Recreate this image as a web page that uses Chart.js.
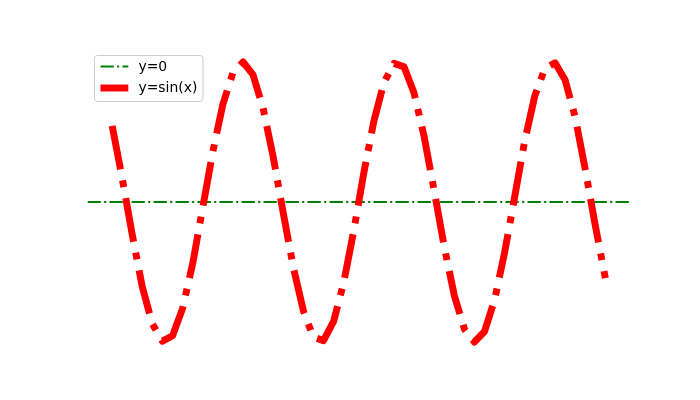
<!DOCTYPE html>
<html>
<head>
<meta charset="utf-8">
<script src="https://cdn.jsdelivr.net/npm/chart.js@4.4.0/dist/chart.umd.min.js"></script>
<style>
    html, body { margin: 0; padding: 0; background: #ffffff; }
    #wrap { width: 700px; height: 400px; }
</style>
</head>
<body>
<div id="wrap"><canvas id="chartSin" width="700" height="400"></canvas></div>
<script>
//---------------------------------------------------------------------
// DONNÉES
//---------------------------------------------------------------------
const xValues = [
    -10.00, -9.59, -9.18, -8.78, -8.37, -7.96, -7.55, -7.14, -6.73, -6.33,
    -5.92, -5.51, -5.10, -4.69, -4.29, -3.88, -3.47, -3.06, -2.65, -2.24,
    -1.84, -1.43, -1.02, -0.61, -0.20, 0.20, 0.61, 1.02, 1.43, 1.84,
    2.24, 2.65, 3.06, 3.47, 3.88, 4.29, 4.69, 5.10, 5.51, 5.92,
    6.33, 6.73, 7.14, 7.55, 7.96, 8.37, 8.78, 9.18, 9.59, 10.00
];
const sinValues = [
    0.544, 0.166, -0.239, -0.605, -0.871, -0.994, -0.955, -0.758, -0.436, -0.043,
    0.357, 0.698, 0.925, 1.000, 0.910, 0.671, 0.322, -0.080, -0.469, -0.781,
    -0.965, -0.990, -0.852, -0.575, -0.203, 0.203, 0.575, 0.852, 0.990, 0.965,
    0.781, 0.469, 0.080, -0.322, -0.671, -0.910, -1.000, -0.925, -0.698, -0.357,
    0.043, 0.436, 0.758, 0.955, 0.994, 0.871, 0.605, 0.239, -0.166, -0.544
];
const zeroX = [-11, 11];
const zeroY = [0, 0];
const labels = ['y=0', 'y=sin(x)'];

//---------------------------------------------------------------------
// LÉGENDE (style matplotlib, dans le coin haut gauche)
//---------------------------------------------------------------------
const legendeBox = {
    id: 'legendeBox',
    afterDraw(chart) {
        const ctx = chart.ctx;
        const x0 = 94.5, y0 = 55.5, w = 108.5, h = 46;
        ctx.save();
        ctx.beginPath();
        ctx.roundRect(x0, y0, w, h, 3);
        ctx.fillStyle = 'rgba(255,255,255,0.8)';
        ctx.fill();
        ctx.strokeStyle = '#cccccc';
        ctx.lineWidth = 1;
        ctx.stroke();

        const rows = [66.5, 88];
        chart.data.datasets.forEach((ds, i) => {
            const y = rows[i];
            ctx.beginPath();
            ctx.setLineDash(ds.borderDash || []);
            ctx.lineCap = 'butt';
            ctx.strokeStyle = ds.borderColor;
            ctx.lineWidth = ds.borderWidth;
            ctx.moveTo(100.5, y);
            ctx.lineTo(128.3, y);
            ctx.stroke();
            ctx.setLineDash([]);
            ctx.fillStyle = '#000000';
            ctx.font = '13.9px "DejaVu Sans"';
            ctx.textBaseline = 'middle';
            ctx.fillText(ds.label, 138.5, y + 0.5);
        });
        ctx.restore();
    }
};

//---------------------------------------------------------------------
// GRAPHIQUE
//---------------------------------------------------------------------
const canvas = document.getElementById('chartSin');

new Chart(canvas, {
    type: 'line',
    data: {
        datasets: [
            {
                label: labels[0],
                data: zeroX.map((x, i) => ({ x: x, y: zeroY[i] })),
                borderColor: '#008000',
                borderWidth: 2.08,
                borderDash: [13.3, 3.3, 2.1, 3.3],
                borderCapStyle: 'butt',
                pointRadius: 0,
                order: 1
            },
            {
                label: labels[1],
                data: xValues.map((x, i) => ({ x: x, y: sinValues[i] })),
                borderColor: '#ff0000',
                borderWidth: 6.94,
                borderDash: [44.4, 11.1, 6.9, 11.1],
                borderCapStyle: 'butt',
                borderJoinStyle: 'round',
                pointRadius: 0,
                tension: 0,
                order: 0
            }
        ]
    },
    options: {
        responsive: false,
        animation: false,
        layout: {
            padding: { left: 87.5, right: 70, top: 48, bottom: 44 }
        },
        plugins: {
            legend: { display: false },
            tooltip: { enabled: false }
        },
        scales: {
            x: { type: 'linear', min: -11, max: 11, display: false },
            y: { type: 'linear', min: -1.1, max: 1.1, display: false }
        }
    },
    plugins: [legendeBox]
});
</script>
</body>
</html>
